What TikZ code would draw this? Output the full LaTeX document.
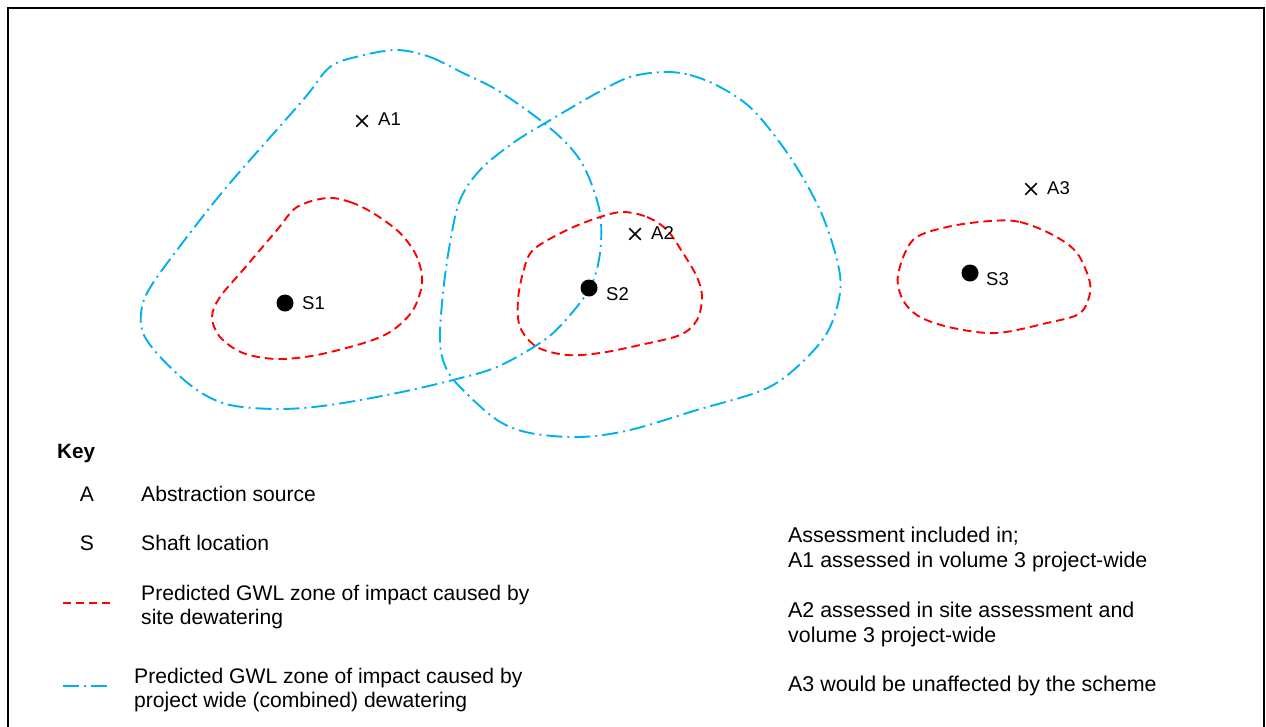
\documentclass[tikz,border=0pt]{standalone}
\usepackage{fontspec}
\setmainfont{Liberation Sans}
\usetikzlibrary{shapes.misc}
\definecolor{zonered}{RGB}{255,0,0}
\definecolor{zoneblue}{RGB}{0,176,240}
\tikzset{
  sitezone/.style={zonered, line width=1.9pt, dash pattern=on 8.5pt off 5pt},
  widezone/.style={zoneblue, line width=1.9pt, dash pattern=on 16pt off 5pt on 2pt off 5pt},
  shaft/.style={circle, fill=black, inner sep=0pt, minimum size=17pt},
  source/.style={cross out, draw=black, line width=1.5pt, inner sep=0pt, minimum size=10pt},
  maplabel/.style={anchor=base west, inner sep=0pt, font=\fontsize{18.5}{22}\selectfont},
  keyfont/.style={inner sep=0pt, font=\fontsize{21.1}{24}\selectfont},
  keytext/.style={keyfont, anchor=base west, align=left},
  notetext/.style={anchor=base west, inner sep=0pt, align=left, font=\fontsize{21.4}{25}\selectfont},
  frameline/.style={black, line width=2pt}
}
\begin{document}
\begin{tikzpicture}[x=1pt, y=-1pt]
\useasboundingbox (0,0) rectangle (1266,726);
\clip (0,0) rectangle (1266,726);
\fill[white] (0,0) rectangle (1266,726);

% outer frame (open at the bottom)
\draw[frameline] (8,740) -- (8,8) -- (1264,8) -- (1264,740);

% project-wide (combined) zones of impact
\draw[widezone] plot[smooth cycle, tension=0.55] coordinates {
  (397,50) (430,57) (463,73) (497,90) (540,120) (570,147) (587,173)
  (600,213) (600,253) (590,288) (563,323) (540,343) (497,367) (453,380)
  (397,393) (330,405) (280,409) (230,405) (197,390) (163,360) (143,333)
  (142,307) (153,283) (190,233) (230,183) (303,100) (330,67) (360,56)};
\draw[widezone] plot[smooth cycle, tension=0.55] coordinates {
  (663,72) (690,75) (720,87) (753,110) (790,157) (820,210) (837,260)
  (840,293) (827,333) (797,367) (763,390) (697,410) (630,430) (580,437)
  (530,433) (497,420) (463,390) (447,370) (440,343) (443,293) (450,243)
  (460,200) (480,170) (513,143) (547,122) (597,93) (630,77)};

% site dewatering zones of impact
\draw[sitezone] plot[smooth cycle, tension=0.55] coordinates {
  (327,198) (350,202) (373,213) (400,233) (417,257) (422,283) (413,310)
  (393,330) (367,342) (317,355) (277,359) (243,353) (220,337) (212,317)
  (220,297) (243,270) (277,230) (297,207)};
\draw[sitezone] plot[smooth cycle, tension=0.55] coordinates {
  (623,212) (647,217) (667,230) (683,253) (697,277) (702,297) (697,320)
  (680,335) (640,345) (600,353) (567,355) (537,347) (520,327) (518,300)
  (523,273) (533,250) (567,230) (600,217)};
\draw[sitezone] plot[smooth cycle, tension=0.55] coordinates {
  (990,221) (1020,222) (1053,235) (1077,253) (1090,283) (1087,303)
  (1077,315) (1047,323) (997,333) (953,328) (920,317) (903,300)
  (898,275) (913,240) (947,227)};

% shafts
\node[shaft] (s1) at (285,303) {};
\node[shaft] (s2) at (589,288) {};
\node[shaft] (s3) at (970,273) {};
\node[maplabel] (s1lab) at (302,309) {S1};
\node[maplabel] (s2lab) at (606,300) {S2};
\node[maplabel] (s3lab) at (986,285) {S3};

% abstraction sources
\node[source] (a1) at (362,121) {};
\node[source] (a2) at (635,234) {};
\node[source] (a3) at (1031,189) {};
\node[maplabel] (a1lab) at (378,125) {A1};
\node[maplabel] (a2lab) at (651,239) {A2};
\node[maplabel] (a3lab) at (1047,194) {A3};

% key (multi-line nodes are placed by the baseline of their last line)
\node[anchor=base west, inner sep=0pt, font=\fontsize{20.7}{24}\selectfont\bfseries] (key) at (57,458) {Key};
\node[keyfont, anchor=base] (keya) at (87,501) {A};
\node[keyfont, anchor=base] (keys) at (87,550) {S};
\node[keytext] (keyatext) at (141,501) {Abstraction source};
\node[keytext] (keystext) at (141,550) {Shaft location};

\coordinate (redl) at (63,603);
\coordinate (redr) at (111,603);
\draw[sitezone, dash pattern=on 8pt off 5pt] (redl) -- (redr);
\node[keytext] (redtext) at (141,624) {Predicted GWL zone of impact caused by\\site dewatering};

\coordinate (bluel) at (63,686);
\coordinate (bluer) at (109,686);
\draw[widezone] (bluel) -- (bluer);
\node[keytext] (bluetext) at (134,707) {Predicted GWL zone of impact caused by\\project wide (combined) dewatering};

% assessment notes
\node[notetext] (note1) at (788,567) {Assessment included in;\\A1 assessed in volume 3 project-wide};
\node[notetext] (note2) at (788,642) {A2 assessed in site assessment and\\volume 3 project-wide};
\node[notetext] (note3) at (788,691) {A3 would be unaffected by the scheme};
\end{tikzpicture}
\end{document}
